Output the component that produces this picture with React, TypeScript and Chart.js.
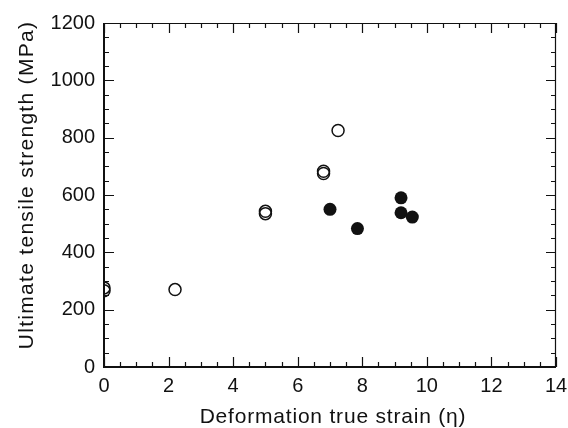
import React, { useEffect, useRef } from "react";
import { Chart, registerables } from "chart.js";

Chart.register(...registerables);

const openStrain = [0, 0, 2.2, 5.0, 5.0, 6.8, 6.8, 7.25];
const openStrength = [276, 266, 270, 543, 535, 683, 675, 825];
const filledStrain = [7.0, 7.85, 9.2, 9.2, 9.55];
const filledStrength = [550, 483, 590, 538, 523];

const xTitle = "Deformation true strain (\u03b7)";
const yTitle = "Ultimate tensile strength (MPa)";
const xRange = [0, 14];
const yRange = [0, 1200];
const xMajor = 2;
const xMinor = 0.5;
const yMajor = 200;
const yMinor = 50;

const FONT = "'Liberation Sans', Arial, Helvetica, sans-serif";

const framePlugin = {
  id: "frameTicks",
  afterDraw(chart: any) {
    const { ctx, chartArea } = chart;
    const xs = chart.scales.x;
    const ys = chart.scales.y;
    const { left, right, top, bottom } = chartArea;
    ctx.save();
    ctx.strokeStyle = "#111";
    // frame
    ctx.lineWidth = 1.2;
    ctx.beginPath();
    ctx.moveTo(left, top + 0.5);
    ctx.lineTo(right, top + 0.5);
    ctx.moveTo(right - 0.5, top);
    ctx.lineTo(right - 0.5, bottom);
    ctx.stroke();
    ctx.lineWidth = 2;
    ctx.beginPath();
    ctx.moveTo(left, top);
    ctx.lineTo(left, bottom);
    ctx.lineTo(right, bottom);
    ctx.stroke();

    ctx.lineWidth = 1.2;
    const eps = 1e-6;
    for (let v = xs.min; v <= xs.max + eps; v += xMinor) {
      const isMajor = Math.abs(v / xMajor - Math.round(v / xMajor)) < eps;
      const len = isMajor ? 10 : 5;
      const px = Math.round(xs.getPixelForValue(v)) + 0.5;
      ctx.beginPath();
      ctx.moveTo(px, bottom);
      ctx.lineTo(px, bottom - len);
      ctx.moveTo(px, top);
      ctx.lineTo(px, top + len);
      ctx.stroke();
    }
    for (let v = ys.min; v <= ys.max + eps; v += yMinor) {
      const isMajor = Math.abs(v / yMajor - Math.round(v / yMajor)) < eps;
      const len = isMajor ? 10 : 5;
      const py = Math.round(ys.getPixelForValue(v)) + 0.5;
      ctx.beginPath();
      ctx.moveTo(left, py);
      ctx.lineTo(left + len, py);
      ctx.moveTo(right, py);
      ctx.lineTo(right - len, py);
      ctx.stroke();
    }

    ctx.fillStyle = "#111";
    ctx.font = `21px ${FONT}`;
    ctx.textAlign = "center";
    ctx.textBaseline = "middle";
    (ctx as any).letterSpacing = "0.8px";
    ctx.fillText(xTitle, (left + right) / 2 + 3, 417);
    ctx.save();
    (ctx as any).letterSpacing = "1.3px";
    ctx.translate(27, 185);
    ctx.rotate(-Math.PI / 2);
    ctx.fillText(yTitle, 0, 0);
    ctx.restore();
    ctx.restore();
  },
};

export default function App() {
  const ref = useRef<HTMLCanvasElement | null>(null);

  useEffect(() => {
    if (!ref.current) return;
    const chart = new Chart(ref.current, {
      type: "scatter",
      data: {
        datasets: [
          {
            label: "open",
            data: openStrain.map((x, i) => ({ x, y: openStrength[i] })),
            pointRadius: 6,
            pointBorderWidth: 1.5,
            pointBorderColor: "#111",
            pointBackgroundColor: "rgba(0,0,0,0)",
          },
          {
            label: "filled",
            data: filledStrain.map((x, i) => ({ x, y: filledStrength[i] })),
            pointRadius: 6.5,
            pointBorderWidth: 0,
            pointBorderColor: "#111",
            pointBackgroundColor: "#111",
          },
        ],
      },
      options: {
        animation: false,
        responsive: false,
        events: [],
        layout: { padding: { top: 23, right: 12, left: 0, bottom: 0 } },
        plugins: {
          legend: { display: false },
          tooltip: { enabled: false },
          title: { display: false },
        },
        scales: {
          x: {
            type: "linear",
            min: xRange[0],
            max: xRange[1],
            grid: { display: false, drawTicks: false },
            border: { display: false },
            ticks: {
              stepSize: xMajor,
              padding: 7,
              color: "#111",
              font: { family: FONT, size: 20 },
              maxRotation: 0,
              callback: (v: any) => String(v),
            },
            afterFit(scale: any) {
              scale.height = 61;
              scale.paddingRight = 0;
              scale.paddingLeft = 0;
            },
          },
          y: {
            type: "linear",
            min: yRange[0],
            max: yRange[1],
            grid: { display: false, drawTicks: false },
            border: { display: false },
            ticks: {
              stepSize: yMajor,
              padding: 9,
              color: "#111",
              font: { family: FONT, size: 20 },
              callback: (v: any) => String(v),
            },
            afterFit(scale: any) {
              scale.width = 104;
              scale.paddingTop = 0;
              scale.paddingBottom = 0;
            },
          },
        },
      },
      plugins: [framePlugin],
    });
    return () => chart.destroy();
  }, []);

  return (
    <div style={{ position: "absolute", left: 0, top: 0, width: 568, height: 428, background: "#fff" }}>
      <canvas ref={ref} width={568} height={428} />
    </div>
  );
}
